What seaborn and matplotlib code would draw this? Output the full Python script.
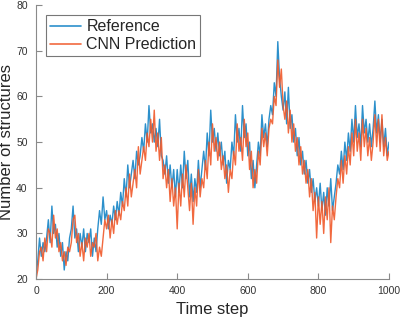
import numpy as np
import pandas as pd
import matplotlib
matplotlib.use('Agg')
import matplotlib.pyplot as plt
import seaborn as sns

# time axis, sampled every 5 steps
time_step = list(range(0, 1001, 5))

# values
reference = [
    21, 24, 29, 25, 28, 26, 29, 33, 28, 36, 30, 32, 27, 30, 25, 28, 22, 26, 24, 29,
    31, 36, 29, 31, 26, 30, 27, 31, 26, 30, 28, 31, 25, 29, 26, 31, 35, 32, 38, 33,
    35, 31, 34, 32, 36, 33, 37, 34, 39, 36, 42, 38, 45, 40, 43, 46, 42, 48, 45, 47,
    51, 48, 54, 50, 58, 52, 54, 50, 53, 49, 55, 47, 46, 43, 47, 41, 45, 40, 44, 38,
    44, 39, 45, 40, 48, 42, 46, 38, 43, 37, 42, 39, 46, 40, 44, 48, 44, 52, 47, 57,
    50, 53, 48, 52, 47, 50, 45, 48, 41, 46, 44, 50, 47, 56, 50, 53, 48, 58, 51, 54,
    47, 50, 42, 46, 40, 45, 50, 47, 56, 51, 54, 49, 55, 58, 56, 63, 60, 72, 64, 60,
    57, 61, 54, 62, 53, 56, 50, 53, 47, 51, 45, 48, 43, 46, 41, 44, 39, 42, 37, 40,
    36, 41, 35, 39, 34, 40, 36, 42, 35, 38, 41, 45, 43, 48, 44, 50, 46, 52, 48, 55,
    50, 58, 51, 54, 49, 58, 52, 55, 50, 54, 49, 53, 59, 52, 56, 50, 55, 49, 53, 47, 50,
]

cnn_prediction = [
    20, 22, 26, 27, 24, 29, 26, 31, 30, 27, 34, 29, 31, 26, 28, 24, 26, 23, 27, 26,
    28, 33, 34, 28, 30, 25, 28, 24, 29, 27, 30, 25, 28, 27, 30, 24, 27, 25, 29, 33,
    31, 34, 29, 33, 30, 35, 32, 35, 33, 37, 35, 40, 36, 43, 38, 41, 44, 40, 49, 43,
    46, 49, 46, 52, 49, 55, 50, 57, 48, 52, 46, 51, 42, 45, 40, 44, 37, 42, 36, 40,
    31, 41, 36, 43, 38, 45, 40, 35, 41, 32, 40, 36, 44, 38, 42, 40, 46, 42, 50, 45,
    54, 48, 51, 46, 50, 44, 47, 42, 45, 39, 44, 42, 48, 45, 54, 48, 51, 46, 55, 49,
    52, 44, 48, 40, 44, 41, 48, 45, 53, 49, 52, 47, 53, 55, 54, 60, 58, 68, 62, 66,
    58, 55, 59, 52, 57, 50, 54, 48, 51, 45, 49, 43, 46, 41, 44, 38, 42, 35, 39, 29,
    38, 32, 37, 30, 38, 33, 40, 28, 36, 33, 38, 42, 40, 46, 41, 47, 43, 49, 45, 52,
    47, 55, 48, 52, 46, 55, 49, 53, 47, 51, 46, 50, 56, 49, 55, 48, 56, 47, 51, 46, 48,
]

series_names = ['Reference', 'CNN Prediction']
colors = ['#1584C6', '#F0592A']

df = pd.DataFrame({
    'Time step': time_step * 2,
    'value': reference + cnn_prediction,
    'series': [series_names[0]] * len(time_step) + [series_names[1]] * len(time_step),
})

sns.set_style('white')
plt.rcParams['font.family'] = ['Liberation Sans', 'DejaVu Sans']

fig = plt.figure(figsize=(4.0, 3.19), dpi=100)
ax = fig.add_axes([0.09, 0.125, 0.8825, 0.859])

sns.lineplot(data=df, x='Time step', y='value', hue='series',
             palette=dict(zip(series_names, colors)), linewidth=1.0,
             alpha=0.9, ax=ax)

ax.set_xlim(0, 1000)
ax.set_ylim(20, 80)
ax.set_xticks([0, 200, 400, 600, 800, 1000])
ax.set_yticks([20, 30, 40, 50, 60, 70, 80])
ax.set_xlabel('Time step', fontsize=12)
ax.set_ylabel('Number of structures', fontsize=12)
ax.xaxis.set_label_coords(0.5, -0.085)
ax.yaxis.set_label_coords(-0.062, 0.5)

for side in ['top', 'right']:
    ax.spines[side].set_visible(False)
for side in ['left', 'bottom']:
    ax.spines[side].set_color('#8a8a8a')
    ax.spines[side].set_linewidth(0.8)
ax.tick_params(axis='y', pad=6)
ax.tick_params(axis='x', pad=5)
ax.tick_params(direction='in', length=4, width=0.8, color='#8a8a8a',
               labelsize=7.5, labelcolor='#333333',
               left=True, bottom=True)

leg = ax.legend(loc='upper left', bbox_to_anchor=(0.018, 0.975), fontsize=11.5,
                frameon=True, fancybox=False, handlelength=2.0,
                handletextpad=0.3, borderpad=0.25, labelspacing=0.2,
                borderaxespad=0.2)
leg.get_frame().set_edgecolor('#555555')
leg.get_frame().set_linewidth(0.8)
for line in leg.get_lines():
    line.set_linewidth(1.2)

fig.savefig('out.png', dpi=100)
